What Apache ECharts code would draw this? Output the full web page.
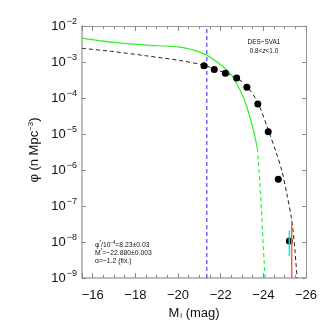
<!DOCTYPE html>
<html>
<head>
<meta charset="utf-8">
<script src="https://cdn.jsdelivr.net/npm/echarts@6/dist/echarts.min.js"></script>
<style>
  html, body { margin: 0; padding: 0; background: #fff; }
  #chart { width: 332px; height: 332px; }
</style>
</head>
<body>
<div id="chart"></div>
<script>
// data (M_i in mag, phi in n Mpc^-3)
const pointsM   = [-21.22, -21.70, -22.22, -22.75, -23.23, -23.74, -24.23, -24.70, -25.22];
const pointsPhi = [7.9e-4, 6.2e-4, 4.9e-4, 3.6e-4, 2.0e-4, 6.8e-5, 1.15e-5, 5.5e-7, 1.07e-8];

// schechter fit (black dashed)
const fitM   = [-15.5, -16.97, -18.53, -20.09, -21.2, -21.7, -22.2, -22.75, -23.23, -23.74, -24.23, -24.59, -24.86, -25.10, -25.33, -25.48, -25.58];
const fitPhi = [2.4e-3, 1.95e-3, 1.48e-3, 1.10e-3, 8.2e-4, 6.4e-4, 5.0e-4, 3.6e-4, 2.1e-4, 7.5e-5, 1.3e-5, 3.2e-6, 1.0e-6, 2.2e-7, 4.1e-8, 6.0e-9, 1.0e-9];

// comparison curve (green), solid part then dashed part
const greenM   = [-15.5, -16.97, -18.53, -20.09, -20.79, -21.35, -21.81, -22.44, -22.91, -23.22, -23.53, -23.72];
const greenPhi = [4.6e-3, 3.5e-3, 2.95e-3, 2.6e-3, 2.1e-3, 1.55e-3, 1.02e-3, 4.9e-4, 1.66e-4, 5.8e-5, 1.3e-5, 4.0e-6];
const greenDashM   = [-23.72, -23.76, -23.89, -23.98, -24.08];
const greenDashPhi = [4.0e-6, 2.1e-6, 1.5e-7, 1.15e-8, 1.0e-9];

// vertical blue limit
const limitM = -21.35;

// error bars: [M, low, high]
const cyanBars   = [[-25.22, 4.1e-9, 2.1e-8]];
const orangeBars = [[-25.33, 1.0e-9, 3.9e-8]];

const xTicks = [-26, -24, -22, -20, -18, -16];
const yExponents = [-9, -8, -7, -6, -5, -4, -3, -2];

const FONT = 'Liberation Sans';
const pairs = (xs, ys) => xs.map((x, i) => [x, ys[i]]);
const minus = v => (v < 0 ? '\u2212' : '') + Math.abs(v);

const chart = echarts.init(document.getElementById('chart'), null, { renderer: 'canvas' });

const barSeries = (bars, color) => bars.map(b => ({
    type: 'line',
    data: [[b[0], b[1]], [b[0], b[2]]],
    symbol: 'none',
    lineStyle: { color: color, width: 1.5 },
    z: 5,
    silent: true
}));

const xBase = {
    type: 'value',
    inverse: true,
    min: xTicks[0],
    max: -15.5,
    interval: 2,
    splitLine: { show: false },
    axisTick: { show: true, inside: true, length: 5, lineStyle: { color: '#888' } },
    minorTick: { show: true, splitNumber: 4, length: 3, lineStyle: { color: '#888' } },
    minorSplitLine: { show: false }
};
const yBase = {
    type: 'log',
    logBase: 10,
    min: Math.pow(10, yExponents[0]),
    max: Math.pow(10, yExponents[yExponents.length - 1]),
    interval: 1,
    splitLine: { show: false },
    axisTick: { show: true, inside: true, length: 4, lineStyle: { color: '#888' } }
};

chart.setOption({
    animation: false,
    backgroundColor: '#fff',
    grid: { left: 82, right: 26, top: 26, bottom: 54 },
    xAxis: [
        Object.assign({}, xBase, {
            position: 'bottom',
            axisLine: { show: true, lineStyle: { color: '#bdbdbd', width: 2 } },
            axisLabel: {
                margin: 11, fontFamily: FONT, fontSize: 13, color: '#111',
                showMaxLabel: false,
                formatter: v => xTicks.includes(v) ? minus(v) : ''
            }
        }),
        Object.assign({}, xBase, {
            position: 'top',
            axisLine: { show: true, lineStyle: { color: '#999', width: 1 } },
            axisLabel: { show: false }
        })
    ],
    yAxis: [
        Object.assign({}, yBase, {
            position: 'left',
            axisLine: { show: true, lineStyle: { color: '#bdbdbd', width: 2 } },
            axisLabel: {
                margin: 5, fontFamily: FONT, color: '#111',
                formatter: v => '{b|10}{s|\u2212' + (-Math.round(Math.log10(v))) + '}',
                rich: {
                    b: { fontFamily: FONT, fontSize: 13, color: '#111' },
                    s: { fontFamily: FONT, fontSize: 9, color: '#111', padding: [0, 0, 8, 1] }
                }
            }
        }),
        Object.assign({}, yBase, {
            position: 'right',
            axisLine: { show: true, lineStyle: { color: '#999', width: 1 } },
            axisLabel: { show: false }
        })
    ],
    graphic: [
        {
            type: 'text', x: 34, y: 150, rotation: Math.PI / 2,
            style: {
                text: '{a|\u03c6 (n Mpc}{s|\u22123}{a|)}',
                align: 'center', verticalAlign: 'middle',
                rich: {
                    a: { fontFamily: FONT, fontSize: 13, fill: '#111' },
                    s: { fontFamily: FONT, fontSize: 8, fill: '#111', padding: [0, 0, 7, 0] }
                }
            }
        },
        {
            type: 'text', x: 194, y: 313,
            style: {
                text: '{a|M}{i|i}{a| (mag)}',
                align: 'center', verticalAlign: 'middle',
                rich: {
                    a: { fontFamily: FONT, fontSize: 13, fill: '#111' },
                    i: { fontFamily: FONT, fontSize: 8, fill: '#111', padding: [6, 0, 0, 1] }
                }
            }
        },
        {
            type: 'text', x: 264, y: 42, scaleX: 0.8,
            style: { text: 'DES\u2212SVA1', align: 'center', verticalAlign: 'middle', fontFamily: FONT, fontSize: 8, fill: '#111' }
        },
        {
            type: 'text', x: 264, y: 51, scaleX: 0.8,
            style: {
                text: '{a|0.8<}{z|z}{a|<1.0}', align: 'center', verticalAlign: 'middle',
                rich: {
                    a: { fontFamily: FONT, fontSize: 8, fill: '#111' },
                    z: { fontFamily: FONT, fontSize: 8, fontStyle: 'italic', fill: '#111' }
                }
            }
        },
        {
            type: 'text', x: 95, y: 245, scaleX: 0.85,
            style: {
                text: '{a|\u03c6}{s|*}{a|/10}{s|\u22124}{a|=8.23\u00b10.03}', verticalAlign: 'middle',
                rich: {
                    a: { fontFamily: FONT, fontSize: 8, fill: '#111' },
                    s: { fontFamily: FONT, fontSize: 5, fill: '#111', padding: [0, 0, 4, 0] }
                }
            }
        },
        {
            type: 'text', x: 95, y: 253, scaleX: 0.85,
            style: {
                text: '{a|M}{s|*}{a|=\u221222.880\u00b10.003}', verticalAlign: 'middle',
                rich: {
                    a: { fontFamily: FONT, fontSize: 8, fill: '#111' },
                    s: { fontFamily: FONT, fontSize: 5, fill: '#111', padding: [0, 0, 4, 0] }
                }
            }
        },
        {
            type: 'text', x: 95, y: 261, scaleX: 0.85,
            style: { text: '\u03b1=\u22121.2 (fix.)', verticalAlign: 'middle', fontFamily: FONT, fontSize: 8, fill: '#111' }
        }
    ],
    series: [
        {
            type: 'line',
            data: pairs(fitM, fitPhi),
            symbol: 'none',
            smooth: 0.3,
            lineStyle: { color: '#222', width: 1, type: [4, 3] },
            silent: true
        },
        {
            type: 'line',
            data: pairs(greenM, greenPhi),
            symbol: 'none',
            smooth: 0.3,
            lineStyle: { color: '#2cf02c', width: 1.2 },
            silent: true
        },
        {
            type: 'line',
            data: pairs(greenDashM, greenDashPhi),
            symbol: 'none',
            lineStyle: { color: '#2cf02c', width: 1.2, type: [4, 3] },
            silent: true
        },
        {
            type: 'line',
            data: [[limitM, 1e-9], [limitM, 1e-2]],
            symbol: 'none',
            lineStyle: { color: '#4646f0', width: 1.2, type: [4, 3] },
            silent: true
        },
        {
            type: 'scatter',
            data: pairs(pointsM, pointsPhi),
            symbol: 'circle',
            symbolSize: 7,
            itemStyle: { color: '#000', opacity: 1 },
            z: 4,
            silent: true
        }
    ].concat(barSeries(cyanBars, '#18e0ee'), barSeries(orangeBars, '#f2653f'))
});
</script>
</body>
</html>
